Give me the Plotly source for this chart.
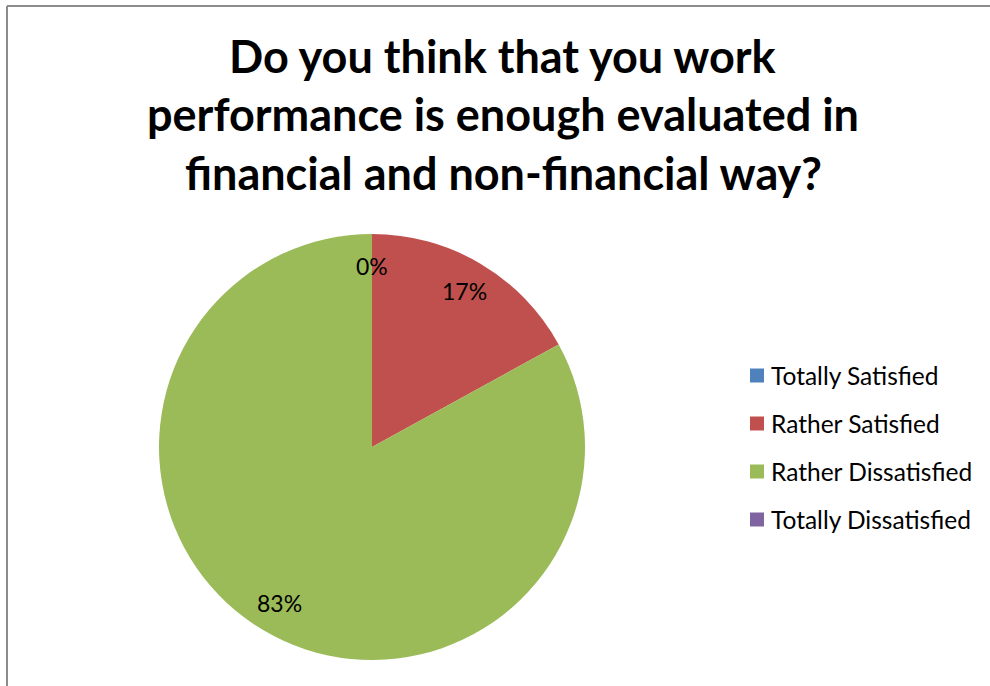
import math
import plotly.graph_objects as go

# Survey answers and their shares (%)
LABELS = ["Totally Satisfied", "Rather Satisfied", "Rather Dissatisfied", "Totally Dissatisfied"]
VALUES = [0, 17, 83, 0]
COLORS = ["#4F81BD", "#C0504D", "#9BBB59", "#8064A2"]
TITLE_LINES = [
    "Do you think that you work",
    "performance is enough evaluated in",
    "financial and non-financial way?",
]

W, H = 990, 686
FONT = "Lato, 'Open Sans', sans-serif"

# pie geometry in pixels
CX, CY, R = 372, 447, 213


def px(x):
    return x / W


def py(y):
    return 1 - y / H


fig = go.Figure()
fig.add_trace(go.Pie(
    labels=LABELS,
    values=VALUES,
    marker=dict(colors=COLORS, line=dict(width=0)),
    sort=False,
    direction="clockwise",
    rotation=0,
    textinfo="none",
    hoverinfo="label+percent",
    showlegend=False,
    domain=dict(x=[px(CX - R), px(CX + R)], y=[py(CY + R), py(CY - R)]),
))

annotations = []

# percentage labels placed at each slice's mid-angle
total = sum(VALUES)
cum = 0
label_r = 0.85 * R
for v in VALUES[:3]:
    mid = (cum + v / 2) / total * 2 * math.pi
    cum += v
    lx = CX + label_r * math.sin(mid)
    ly = CY - label_r * math.cos(mid)
    annotations.append(dict(
        x=px(lx), y=py(ly), xref="paper", yref="paper",
        text=f"{round(v / total * 100)}%", showarrow=False,
        font=dict(family=FONT, size=23, color="#000000"),
        xanchor="center", yanchor="middle",
    ))

# title lines
for i, line in enumerate(TITLE_LINES):
    annotations.append(dict(
        x=px(503), y=py(56 + 58.5 * i), xref="paper", yref="paper",
        text=f"<b>{line}</b>", showarrow=False,
        font=dict(family=FONT, size=45, color="#000000"),
        xanchor="center", yanchor="middle",
    ))

# legend: colour key + label
shapes = []
for i, (lab, col) in enumerate(zip(LABELS, COLORS)):
    yc = 375.5 + 48 * i
    shapes.append(dict(
        type="rect", xref="paper", yref="paper",
        x0=px(750), x1=px(764), y0=py(yc + 7), y1=py(yc - 7),
        fillcolor=col, line=dict(width=0),
    ))
    annotations.append(dict(
        x=px(769), y=py(yc), xref="paper", yref="paper",
        text=lab, showarrow=False,
        font=dict(family=FONT, size=24.5, color="#000000"),
        xanchor="left", yanchor="middle",
    ))

# chart frame (top and left edges)
shapes.append(dict(type="line", xref="paper", yref="paper",
                   x0=px(7), x1=1, y0=py(6), y1=py(6),
                   line=dict(color="#8c8c8c", width=2)))
shapes.append(dict(type="line", xref="paper", yref="paper",
                   x0=px(7), x1=px(7), y0=py(6), y1=0,
                   line=dict(color="#8c8c8c", width=2)))

fig.update_layout(
    width=W, height=H,
    margin=dict(l=0, r=0, t=0, b=0),
    paper_bgcolor="#ffffff",
    plot_bgcolor="#ffffff",
    annotations=annotations,
    shapes=shapes,
)

fig.write_html("out.html")
